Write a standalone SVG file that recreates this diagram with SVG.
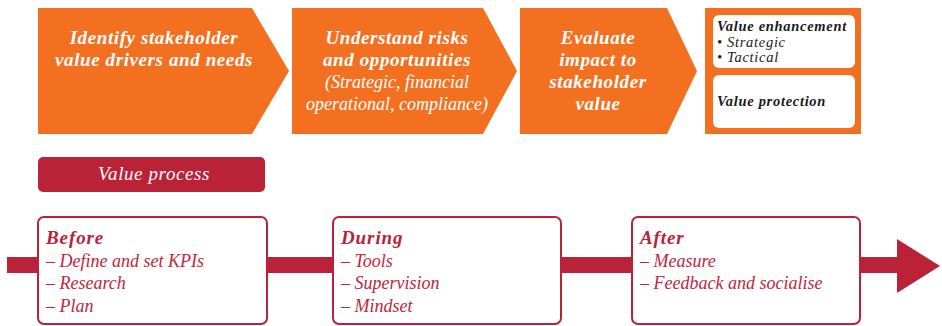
<svg xmlns="http://www.w3.org/2000/svg" width="942" height="326" viewBox="0 0 942 326">
  <style>
    .step { fill: #F37021; }
    .hd { font-family: "Liberation Serif", "DejaVu Serif", serif; font-style: italic; font-weight: bold; font-size: 19px; letter-spacing: 0.6px; fill: #FFFFFF; text-anchor: middle; }
    .sub { font-family: "Liberation Serif", "DejaVu Serif", serif; font-style: italic; font-size: 18px; fill: #FFFFFF; text-anchor: middle; }
    .vp { font-size: 19px; letter-spacing: 0.6px; }
    .vb { fill: #FFFFFF; }
    .vt { font-family: "Liberation Serif", "DejaVu Serif", serif; font-style: italic; font-size: 14.5px; letter-spacing: 0.7px; fill: #1A1A1A; }
    .vtb { font-weight: bold; }
    .phase { fill: #FFFFFF; stroke: #BA2237; stroke-width: 2; }
    .ph { font-family: "Liberation Serif", "DejaVu Serif", serif; font-style: italic; font-weight: bold; font-size: 19px; letter-spacing: 0.9px; fill: #BA2237; }
    .pi { font-family: "Liberation Serif", "DejaVu Serif", serif; font-style: italic; font-size: 18px; fill: #C0263C; }
  </style>

  <!-- process chevrons -->
  <g id="step-identify">
    <polygon class="step" points="38,8 252,8 289,71 252,134 38,134"/>
    <text class="hd" x="154" y="44">Identify stakeholder</text>
    <text class="hd" x="154" y="66">value drivers and needs</text>
  </g>
  <g id="step-understand">
    <polygon class="step" points="292,8 483,8 517,71 483,134 292,134"/>
    <text class="hd" x="397" y="44">Understand risks</text>
    <text class="hd" x="397" y="66">and opportunities</text>
    <text class="sub" x="397" y="88">(Strategic, financial</text>
    <text class="sub" x="397" y="110">operational, compliance)</text>
  </g>
  <g id="step-evaluate">
    <polygon class="step" points="520,8 667,8 697,71 667,134 520,134"/>
    <text class="hd" x="598" y="44">Evaluate</text>
    <text class="hd" x="598" y="66">impact to</text>
    <text class="hd" x="598" y="88">stakeholder</text>
    <text class="hd" x="598" y="110">value</text>
  </g>
  <g id="value-outcomes">
    <rect class="step" x="705" y="8" width="156" height="126"/>
    <rect class="vb" x="713" y="15" width="142" height="53" rx="6"/>
    <rect class="vb" x="713" y="75" width="142" height="53" rx="6"/>
    <text class="vt vtb" x="717" y="31">Value enhancement</text>
    <text class="vt" x="717" y="46.5">• Strategic</text>
    <text class="vt" x="717" y="62">• Tactical</text>
    <text class="vt vtb" x="717" y="106">Value protection</text>
  </g>

  <!-- value process label -->
  <g id="value-process">
    <rect x="38" y="157" width="227" height="35" rx="5" fill="#BA2237"/>
    <text class="sub vp" x="154" y="180">Value process</text>
  </g>

  <!-- timeline arrow -->
  <g id="connectors">
    <rect x="7" y="257" width="892" height="16" fill="#BA2237"/>
    <polygon points="897,239 940,266 897,293" fill="#BA2237"/>
  </g>

  <g id="phase-before">
    <rect class="phase" x="38" y="217" width="229" height="107" rx="6"/>
    <text class="ph" x="46" y="244">Before</text>
    <text class="pi" x="46" y="267">– Define and set KPIs</text>
    <text class="pi" x="46" y="289">– Research</text>
    <text class="pi" x="46" y="312">– Plan</text>
  </g>
  <g id="phase-during">
    <rect class="phase" x="333" y="217" width="228" height="107" rx="6"/>
    <text class="ph" x="341" y="244">During</text>
    <text class="pi" x="341" y="267">– Tools</text>
    <text class="pi" x="341" y="289">– Supervision</text>
    <text class="pi" x="341" y="312">– Mindset</text>
  </g>
  <g id="phase-after">
    <rect class="phase" x="632" y="217" width="228" height="107" rx="6"/>
    <text class="ph" x="640" y="244">After</text>
    <text class="pi" x="640" y="267">– Measure</text>
    <text class="pi" x="640" y="289">– Feedback and socialise</text>
  </g>
</svg>
